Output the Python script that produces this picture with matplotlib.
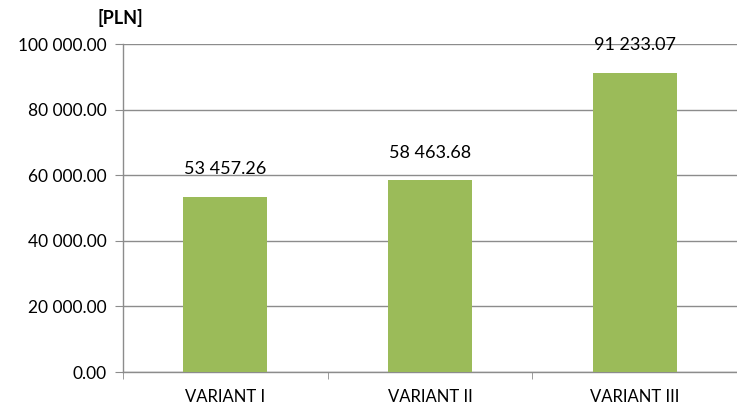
import matplotlib
matplotlib.use('Agg')
import matplotlib.pyplot as plt
from matplotlib.ticker import FuncFormatter, FixedLocator

plt.rcParams['font.family'] = ['Lato', 'DejaVu Sans']

variants = ['VARIANT I', 'VARIANT II', 'VARIANT III']
costs = [53457.26, 58463.68, 91233.07]
y_ticks = [0, 20000, 40000, 60000, 80000, 100000]


def fmt(v, pos=None):
    # space as thousands separator, two decimals
    return f'{v:,.2f}'.replace(',', ' ')


fig = plt.figure(figsize=(7.37, 4.08), dpi=100)
ax = fig.add_axes([0.167, 0.088, 0.833, 0.804])

x = range(len(variants))
ax.bar(x, costs, width=0.41, color='#9BBB59', zorder=3)

for xi, v in zip(x, costs):
    ax.annotate(fmt(v), (xi, v), xytext=(0, 14), textcoords='offset points',
                ha='center', va='bottom', fontsize=13, color='#000000')

ax.set_xlim(-0.5, 2.5)
ax.set_ylim(0, 100000)
ax.set_yticks(y_ticks)
ax.yaxis.set_major_formatter(FuncFormatter(fmt))
ax.set_xticks(list(x))
ax.set_xticklabels(variants)
ax.xaxis.set_minor_locator(FixedLocator([-0.5, 0.5, 1.5, 2.5]))

ax.grid(axis='y', color='#8C8C8C', linewidth=1.0, zorder=0)
for side in ['top', 'right']:
    ax.spines[side].set_visible(False)
for side in ['left', 'bottom']:
    ax.spines[side].set_color('#8C8C8C')
    ax.spines[side].set_linewidth(1.0)

ax.tick_params(axis='y', length=6, color='#8C8C8C', labelsize=12.5, pad=6)
ax.tick_params(axis='x', which='major', length=0, labelsize=12, pad=12)
ax.tick_params(axis='x', which='minor', length=5, color='#8C8C8C')

fig.text(0.163, 0.955, '[PLN]', ha='center', va='center',
         fontsize=13, fontweight='bold')

fig.savefig('out.png', dpi=100)
